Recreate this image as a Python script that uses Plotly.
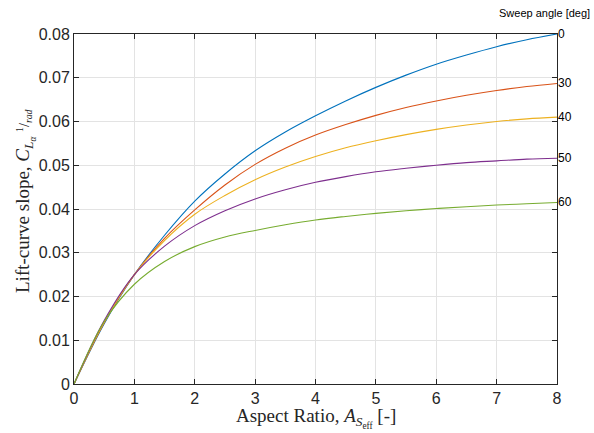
import plotly.graph_objects as go

# Aspect ratio sample points
aspect_ratio = [0, 0.5, 1, 1.5, 2, 2.5, 3, 3.5, 4, 4.5, 5, 5.5, 6, 6.5, 7, 7.5, 8]

# Lift-curve slope for each sweep angle
cla_sweep0 = [0, 0.0138, 0.0250, 0.0340, 0.0418, 0.0480, 0.0533, 0.0576, 0.0613,
              0.0647, 0.0678, 0.0706, 0.0731, 0.0752, 0.0771, 0.0787, 0.0800]
cla_sweep30 = [0, 0.0140, 0.0250, 0.0333, 0.0398, 0.0455, 0.0502, 0.0539, 0.0569,
               0.0593, 0.0614, 0.0632, 0.0647, 0.0660, 0.0671, 0.0680, 0.0687]
cla_sweep40 = [0, 0.0141, 0.0250, 0.0328, 0.0388, 0.0431, 0.0467, 0.0496, 0.0520,
               0.0540, 0.0556, 0.0570, 0.0582, 0.0592, 0.0600, 0.0606, 0.0610]
cla_sweep50 = [0, 0.0145, 0.0250, 0.0315, 0.0362, 0.0396, 0.0423, 0.0444, 0.0461,
               0.0474, 0.0485, 0.0493, 0.0500, 0.0506, 0.0510, 0.0514, 0.0516]
cla_sweep60 = [0, 0.0143, 0.0228, 0.0280, 0.0314, 0.0336, 0.0351, 0.0364, 0.0375,
               0.0383, 0.0390, 0.0396, 0.0401, 0.0405, 0.0409, 0.0412, 0.0415]

sweep_labels = ["0", "30", "40", "50", "60"]
series = [cla_sweep0, cla_sweep30, cla_sweep40, cla_sweep50, cla_sweep60]
colors = ["#0072BD", "#D95319", "#EDB120", "#7E2F8E", "#77AC30"]

x_ticks = [0, 1, 2, 3, 4, 5, 6, 7, 8]
y_ticks = [0, 0.01, 0.02, 0.03, 0.04, 0.05, 0.06, 0.07, 0.08]
y_ticktext = ["0", "0.01", "0.02", "0.03", "0.04", "0.05", "0.06", "0.07", "0.08"]

fig = go.Figure()
for vals, name, col in zip(series, sweep_labels, colors):
    fig.add_trace(go.Scatter(
        x=aspect_ratio, y=vals, mode="lines", name=name,
        line=dict(color=col, width=1.1, shape="spline", smoothing=1.0),
        showlegend=False, hoverinfo="skip",
    ))

# Sweep-angle labels at the right-hand end of each curve
for vals, name in zip(series, sweep_labels):
    fig.add_annotation(
        x=1, xref="paper", y=vals[-1], yref="y",
        text=name, showarrow=False, xanchor="left", yanchor="middle",
        xshift=-1, font=dict(family="Liberation Sans, Arial", size=12, color="#000000"),
    )

fig.add_annotation(
    x=1, xref="paper", y=1, yref="paper", text="Sweep angle [deg]",
    showarrow=False, xanchor="left", yanchor="middle", xshift=-60, yshift=21,
    font=dict(family="Liberation Sans, Arial", size=11, color="#000000"),
)

serif = "Liberation Serif, Times New Roman, serif"
fig.add_annotation(
    x=0.5, xref="paper", y=0, yref="paper",
    text="Aspect Ratio, <i>A</i><sub><i>S</i><sub>eff</sub></sub> [-]",
    showarrow=False, xanchor="center", yanchor="middle", yshift=-34,
    font=dict(family=serif, size=19, color="#262626"),
)
fig.add_annotation(
    x=0, xref="paper", y=0.5, yref="paper",
    text=("Lift-curve slope, <i>C</i><sub><i>L</i><sub><i>α</i></sub></sub> "
          "<span style='font-size:14px'><sup>1</sup>/<sub><i>rad</i></sub></span>"),
    textangle=-90, showarrow=False, xanchor="center", yanchor="middle",
    xshift=-49, yshift=8,
    font=dict(family=serif, size=19, color="#262626"),
)

axis_common = dict(
    showline=True, linecolor="#262626", linewidth=1, mirror="ticks",
    ticks="inside", ticklen=5, tickcolor="#262626", tickwidth=1,
    showgrid=True, gridcolor="#e3e3e3", gridwidth=1, zeroline=False,
    tickfont=dict(family="Liberation Sans, Arial", size=16, color="#262626"),
)

fig.update_xaxes(range=[0, 8], tickvals=x_ticks, **axis_common)
fig.update_yaxes(range=[0, 0.08], tickvals=y_ticks, ticktext=y_ticktext, **axis_common)

fig.update_layout(
    width=594, height=433,
    margin=dict(l=74, r=37, t=34, b=49),
    paper_bgcolor="#ffffff", plot_bgcolor="#ffffff",
)

fig.write_html("out.html")
